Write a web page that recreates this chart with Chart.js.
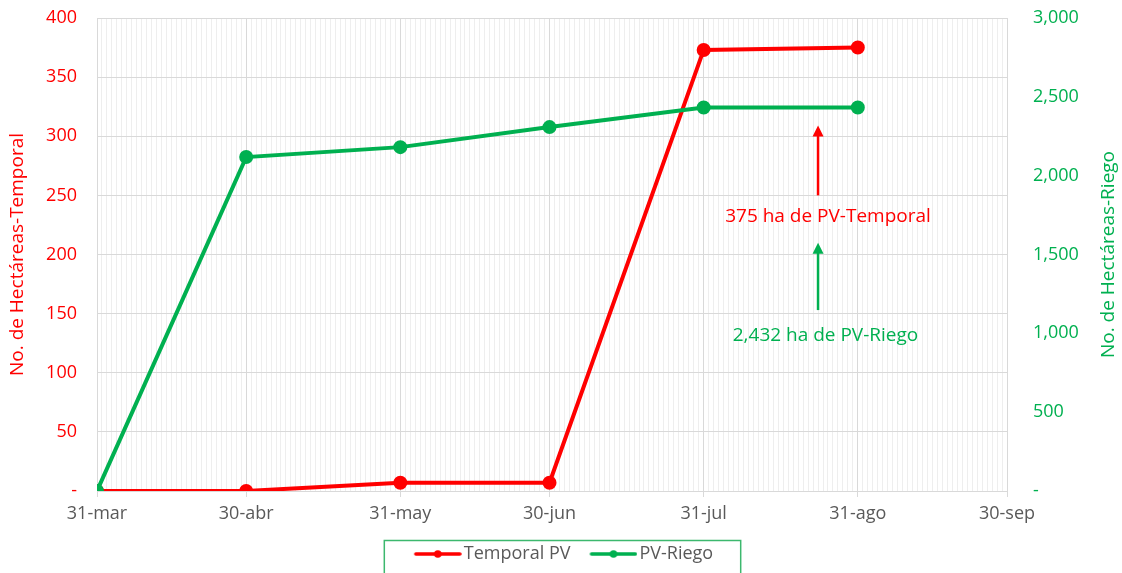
<!DOCTYPE html>
<html>
<head>
<meta charset="utf-8">
<script src="https://cdn.jsdelivr.net/npm/chart.js@4/dist/chart.umd.min.js"></script>
<style>
  html, body { margin: 0; padding: 0; background: #fff; }
  #wrap { width: 1122px; height: 573px; }
</style>
</head>
<body>
<div id="wrap"><canvas id="chart"></canvas></div>
<script>
// days counted from 31-mar
const tickDays = [0, 30, 61, 91, 122, 153, 183];
const tickLabels = ["31-mar", "30-abr", "31-may", "30-jun", "31-jul", "31-ago", "30-sep"];
const pointDays = [0, 30, 61, 91, 122, 153];
const temporalPV = [0, 0, 7, 7, 373, 375];
const pvRiego = [0, 2118, 2181, 2308, 2432, 2432];

const RED = "#ff0000";
const GREEN = "#00b050";
const GRAY = "#595959";
const FONT = "'Open Sans', sans-serif";

function toPoints(values) {
  return values.map((v, i) => ({ x: pointDays[i], y: v }));
}

// line-with-dot legend symbol, drawn a bit right of the canvas centre
function legendMarker(color) {
  const c = document.createElement("canvas");
  c.width = 60;
  c.height = 10;
  const g = c.getContext("2d");
  g.strokeStyle = color;
  g.lineWidth = 3.5;
  g.lineCap = "round";
  g.beginPath();
  g.moveTo(14, 5);
  g.lineTo(58, 5);
  g.stroke();
  g.fillStyle = color;
  g.beginPath();
  g.arc(36, 5, 3.8, 0, Math.PI * 2);
  g.fill();
  return c;
}

const extras = {
  id: "extras",
  afterDatasetsDraw(chart) {
    const { ctx, scales } = chart;
    const x = scales.x, y = scales.y;
    const arrows = [
      { color: RED, day: 145, from: 250, to: 309 },
      { color: GREEN, day: 145, from: 153, to: 210 },
    ];
    const notes = [
      { color: RED, day: 147, val: 232, text: "375 ha de PV-Temporal" },
      { color: GREEN, day: 146.5, val: 131, text: "2,432 ha de PV-Riego" },
    ];
    ctx.save();
    arrows.forEach((a) => {
      const px = x.getPixelForValue(a.day);
      const y0 = y.getPixelForValue(a.from);
      const y1 = y.getPixelForValue(a.to);
      ctx.strokeStyle = a.color;
      ctx.fillStyle = a.color;
      ctx.lineWidth = 2.5;
      ctx.beginPath();
      ctx.moveTo(px, y0);
      ctx.lineTo(px, y1 + 8);
      ctx.stroke();
      ctx.beginPath();
      ctx.moveTo(px, y1);
      ctx.lineTo(px - 5.5, y1 + 11);
      ctx.lineTo(px + 5.5, y1 + 11);
      ctx.closePath();
      ctx.fill();
    });
    ctx.font = "19px " + FONT;
    ctx.textAlign = "center";
    ctx.textBaseline = "middle";
    notes.forEach((n) => {
      ctx.fillStyle = n.color;
      ctx.fillText(n.text, x.getPixelForValue(n.day), y.getPixelForValue(n.val));
    });
    ctx.restore();
  },
  afterDraw(chart) {
    const { ctx, chartArea } = chart;
    ctx.save();
    // right axis title, reading bottom to top
    ctx.translate(chart.width - 13, (chartArea.top + chartArea.bottom) / 2);
    ctx.rotate(-Math.PI / 2);
    ctx.font = "19px " + FONT;
    ctx.fillStyle = GREEN;
    ctx.textAlign = "center";
    ctx.textBaseline = "middle";
    ctx.fillText("No. de Hectáreas-Riego", 0, 0);
    ctx.restore();

    // green frame round the legend
    const boxes = chart.legend.legendHitBoxes;
    if (boxes && boxes.length) {
      const first = boxes[0], last = boxes[boxes.length - 1];
      const l = first.left - 25;
      const r = last.left + last.width + 27;
      const t = first.top + first.height / 2 - 14;
      ctx.save();
      ctx.strokeStyle = "#3cb86e";
      ctx.lineWidth = 1.5;
      ctx.strokeRect(l + 0.5, t + 0.5, r - l, chart.height - t + 5);
      ctx.restore();
    }
  },
};

const markers = [legendMarker(RED), legendMarker(GREEN)];

function tightPadding(scale) {
  scale.paddingTop = 11;
  scale.paddingBottom = 11;
}

new Chart(document.getElementById("chart"), {
  type: "line",
  data: {
    datasets: [
      {
        label: "Temporal PV",
        data: toPoints(temporalPV),
        borderColor: RED,
        backgroundColor: RED,
        borderWidth: 4,
        pointRadius: 5,
        pointHoverRadius: 5,
        yAxisID: "y",
      },
      {
        label: "PV-Riego",
        data: toPoints(pvRiego),
        borderColor: GREEN,
        backgroundColor: GREEN,
        borderWidth: 4,
        pointRadius: 5,
        pointHoverRadius: 5,
        yAxisID: "y1",
        order: -1,
      },
    ],
  },
  options: {
    responsive: true,
    maintainAspectRatio: false,
    animation: false,
    layout: { padding: { top: 18, left: 0, right: 0, bottom: 0 } },
    plugins: {
      tooltip: { enabled: false },
      legend: {
        position: "bottom",
        labels: {
          usePointStyle: true,
          pointStyleWidth: 46,
          padding: 14,
          color: GRAY,
          font: { family: FONT, size: 18 },
          generateLabels(chart) {
            const items = Chart.defaults.plugins.legend.labels.generateLabels(chart);
            items.forEach((it) => { it.pointStyle = markers[it.datasetIndex]; });
            return items.sort((a, b) => a.datasetIndex - b.datasetIndex);
          },
        },
      },
    },
    scales: {
      x: {
        type: "linear",
        min: 0,
        max: 183,
        afterBuildTicks(scale) {
          const t = [];
          for (let d = 0; d <= 183; d++) t.push({ value: d });
          scale.ticks = t;
        },
        ticks: {
          autoSkip: false,
          maxRotation: 0,
          color: GRAY,
          padding: 6,
          font: { family: FONT, size: 18 },
          callback(v) {
            const i = tickDays.indexOf(v);
            return i >= 0 ? tickLabels[i] : "";
          },
        },
        grid: {
          color: (c) => (tickDays.includes(c.tick && c.tick.value) ? "#d9d9d9" : "#eeeeee"),
          tickColor: (c) => (tickDays.includes(c.tick && c.tick.value) ? "#d9d9d9" : "rgba(0,0,0,0)"),
          tickLength: 6,
        },
        border: { color: "#d9d9d9" },
        afterFit(scale) { scale.height = 40; },
      },
      y: {
        position: "left",
        min: 0,
        max: 400,
        ticks: {
          stepSize: 50,
          color: RED,
          padding: 20,
          font: { family: FONT, size: 18 },
          callback: (v) => (v === 0 ? "-" : v),
        },
        grid: { color: "#d9d9d9", drawTicks: false },
        border: { display: false },
        title: {
          display: true,
          text: "No. de Hectáreas-Temporal",
          color: RED,
          font: { family: FONT, size: 19 },
          padding: { top: 6, bottom: 0 },
        },
        afterFit(scale) {
          scale.width = 97;
          tightPadding(scale);
        },
      },
      y1: {
        position: "right",
        min: 0,
        max: 3000,
        ticks: {
          stepSize: 500,
          color: GREEN,
          padding: 26,
          font: { family: FONT, size: 18 },
          callback: (v) => (v === 0 ? "-" : v.toLocaleString("en-US")),
        },
        grid: { display: false, drawTicks: false },
        border: { display: false },
        afterFit(scale) {
          scale.width = 115;
          tightPadding(scale);
        },
      },
    },
  },
  plugins: [extras],
});
</script>
</body>
</html>
